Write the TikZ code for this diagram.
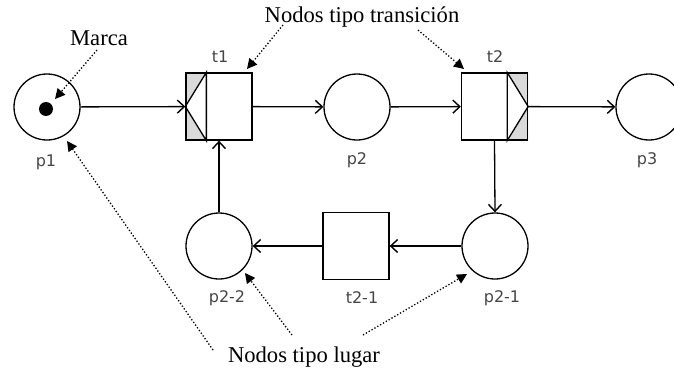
\documentclass[tikz,border=0pt]{standalone}
\usepackage{fontspec}
\setmainfont{Liberation Serif}
\newfontfamily\lblfont{DejaVu Sans}
\usetikzlibrary{arrows.meta}
\definecolor{stripegray}{HTML}{DADADA}
\definecolor{lblgray}{HTML}{454545}
\tikzset{
  place/.style={circle,draw,line width=1.3pt,minimum size=66pt,inner sep=0pt},
  trans/.style={rectangle,draw,line width=1.3pt,minimum width=66pt,minimum height=67pt,inner sep=0pt},
  lbl/.style={font=\lblfont\fontsize{16}{16}\selectfont,text=lblgray,inner sep=0pt},
  note/.style={font=\fontsize{22.6}{24}\selectfont,inner sep=0pt},
  arc/.style={line width=1.3pt,-{Straight Barb[length=7pt,width=13pt,line width=1.4pt]}},
  pointer/.style={line width=1.3pt,dotted,-{Triangle[length=10pt,width=10pt]}},
}
\begin{document}
\begin{tikzpicture}[x=1pt,y=-1pt]
\useasboundingbox (0,0) rectangle (674,372);
% places
\node[place] (p1) at (47,107) {};
\node[place] (p2) at (357,107) {};
\node[place] (p3) at (649,107) {};
\node[place] (p22) at (219,246) {};
\node[place] (p21) at (495,246) {};
\fill (46,109) circle (7pt);
\coordinate (mark) at (46,109);
% transitions
\node[trans] (t1) at (219,106.5) {};
\node[trans] (t2) at (494.5,106.5) {};
\node[trans] (t21) at (356,246) {};
% t1 stripe
\fill[stripegray] (t1.north west) -- ([xshift=21pt]t1.north west) -- (t1.west) -- cycle;
\fill[stripegray] (t1.south west) -- ([xshift=21pt]t1.south west) -- (t1.west) -- cycle;
\draw[line width=1.3pt] ([xshift=21pt]t1.north west) -- (t1.west) -- ([xshift=21pt]t1.south west) -- cycle;
\node[trans] at (219,106.5) {};
% t2 stripe
\fill[stripegray] (t2.north east) -- ([xshift=-21pt]t2.north east) -- (t2.east) -- cycle;
\fill[stripegray] (t2.south east) -- ([xshift=-21pt]t2.south east) -- (t2.east) -- cycle;
\draw[line width=1.3pt] ([xshift=-21pt]t2.north east) -- (t2.east) -- ([xshift=-21pt]t2.south east) -- cycle;
\node[trans] at (494.5,106.5) {};
% labels
\node[lbl] (lp1) at (46,162) {p1};
\node[lbl] (lt1) at (220,57) {t1};
\node[lbl] (lp2) at (357,160) {p2};
\node[lbl] (lt2) at (495,57) {t2};
\node[lbl] (lp3) at (647,160) {p3};
\node[lbl] (lp22) at (227,298) {p2-2};
\node[lbl] (lt21) at (362,298) {t2-1};
\node[lbl] (lp21) at (502,298) {p2-1};
% arcs
\draw[arc] (p1) -- (t1);
\draw[arc] (t1) -- (p2);
\draw[arc] (p2) -- (t2);
\draw[arc] (t2) -- (p3);
\draw[arc] (t2.south) -- (p21.north);
\draw[arc] (p21) -- (t21);
\draw[arc] (t21) -- (p22);
\draw[arc] (p22.north) -- (t1.south);
% annotations
\node[note] (marca) at (99,38) {Marca};
\node[note] (ntrans) at (362,17) {Nodos tipo transición};
\node[note] (nlugar) at (304,357) {Nodos tipo lugar};
\coordinate (a1s) at (97,50);   \coordinate (a1e) at (55,99);
\coordinate (a2s) at (283,25);  \coordinate (a2e) at (247,69);
\coordinate (a3s) at (418,30);  \coordinate (a3e) at (464,69);
\coordinate (a4s) at (213,350); \coordinate (a4e) at (67,141);
\coordinate (a5s) at (292,335); \coordinate (a5e) at (245,273);
\coordinate (a6s) at (363,335); \coordinate (a6e) at (467,274);
\draw[pointer] (a1s) -- (a1e);
\draw[pointer] (a2s) -- (a2e);
\draw[pointer] (a3s) -- (a3e);
\draw[pointer] (a4s) -- (a4e);
\draw[pointer] (a5s) -- (a5e);
\draw[pointer] (a6s) -- (a6e);
\end{tikzpicture}
\end{document}
